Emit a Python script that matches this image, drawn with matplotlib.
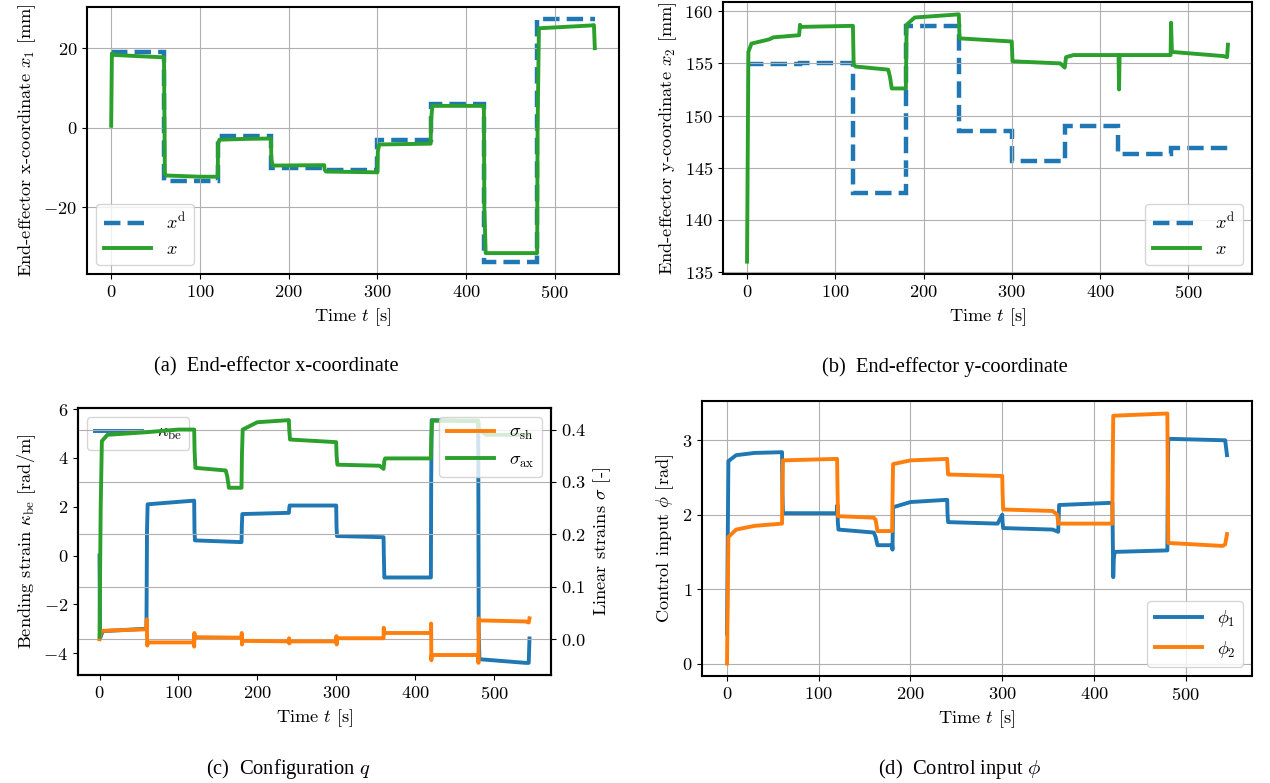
import numpy as np
import matplotlib
matplotlib.use("Agg")
from matplotlib import pyplot as plt

plt.rcParams['font.family'] = 'cmr10'
plt.rcParams['mathtext.fontset'] = 'cm'
plt.rcParams['axes.formatter.use_mathtext'] = True
plt.rcParams['font.size'] = 13.2
plt.rcParams['axes.linewidth'] = 1.5

C_BLUE = '#1f77b4'
C_ORANGE = '#ff7f0e'
C_GREEN = '#2ca02c'
LW = 2.8

## reference steps (desired end-effector position)
seg_edges = [0, 60, 120, 180, 240, 300, 360, 420, 480, 545]
x1_des = [19.0, -13.4, -2.1, -10.2, -10.6, -3.1, 6.0, -33.7, 27.3]
x2_des = [154.9, 155.0, 142.6, 158.6, 148.5, 145.6, 149.0, 146.3, 146.9]

## measured end-effector x-coordinate
t_x1 = [0, 0.8, 4, 30, 59.5, 60.5, 62, 100, 120, 120.5, 122, 150, 180, 180.5, 182, 240,
        240.5, 242, 300, 300.5, 302, 360, 360.5, 362, 420, 420.5, 422, 480, 480.5, 482, 540, 544, 545]
x1 = [0.5, 18.7, 18.3, 18.0, 17.7, -11.5, -12.0, -12.3, -12.3, -4.0, -3.0, -2.8, -2.7, -8.0, -9.5, -9.4,
      -10.5, -11.0, -11.2, -6.0, -4.2, -4.0, 2.0, 5.5, 5.5, -20.0, -31.5, -31.5, 0.0, 25.0, 25.7, 25.8, 20.0]

## measured end-effector y-coordinate
t_x2 = [0, 1.5, 5, 15, 25, 30, 59, 60, 61, 120, 120.8, 123, 160, 162, 164, 180, 180.8, 190, 240,
        240.8, 300, 300.8, 355, 360, 361.5, 370, 421, 421.6, 422.2, 480, 480.5, 481.5, 540, 544, 545]
x2 = [136.0, 156.1, 156.9, 157.1, 157.3, 157.5, 157.7, 158.7, 158.5, 158.6, 154.9, 154.7, 154.4, 153.7,
      152.6, 152.6, 158.7, 159.4, 159.7, 157.4, 157.1, 155.2, 155.0, 154.6, 155.6, 155.8, 155.8, 152.5,
      155.8, 155.8, 158.9, 156.1, 155.7, 155.6, 156.8]

## configuration: bending strain
t_kbe = [0, 0.7, 4, 59.5, 60.2, 61, 100, 120, 120.4, 121, 180, 180.4, 181, 240, 240.4, 241, 300, 300.4, 301,
         360, 360.4, 361, 420, 420.4, 421, 480, 480.6, 481.5, 540, 544, 545]
kbe = [0.0, -3.4, -3.1, -3.0, 1.0, 2.1, 2.2, 2.25, 1.0, 0.62, 0.55, 1.2, 1.7, 1.75, 1.9, 2.05, 2.05, 1.2, 0.8,
       0.75, 0.0, -0.9, -0.9, 3.0, 5.55, 5.5, -3.0, -4.25, -4.4, -4.4, -3.4]

## configuration: shear strain
t_ssh = [0, 2, 59, 60, 60.3, 60.6, 61, 119.5, 120, 120.3, 120.6, 121, 180, 180.3, 180.6, 181, 240,
         240.3, 240.6, 241, 300, 300.3, 300.6, 301, 360, 360.3, 360.6, 361, 420, 420.3, 420.6, 421,
         480, 480.3, 480.6, 481, 540, 544, 545]
s_sh = [0.0, 0.016, 0.019, 0.038, 0.0, -0.012, -0.006, -0.006, -0.014, 0.012, 0.0, 0.004, 0.003,
        0.012, -0.010, -0.003, -0.004, 0.002, -0.008, -0.004, -0.004, 0.006, -0.010, 0.002, 0.002,
        0.022, 0.010, 0.012, 0.012, 0.03, -0.040, -0.030, -0.030, -0.045, 0.040, 0.036, 0.034, 0.032, 0.040]

## configuration: axial strain
t_sax = [0, 1.5, 3, 10, 60, 100, 120, 120.5, 121.5, 160, 162, 164, 180, 180.5, 181.5, 200, 240,
         240.5, 241.5, 300, 300.5, 301.5, 355, 360, 361, 362, 420, 420.5, 421.5, 480, 481, 490, 545]
s_ax = [0.005, 0.25, 0.378, 0.39, 0.395, 0.40, 0.40, 0.36, 0.327, 0.322, 0.31, 0.289, 0.289, 0.35,
        0.400, 0.414, 0.418, 0.40, 0.381, 0.376, 0.35, 0.333, 0.331, 0.325, 0.34, 0.345, 0.345, 0.38,
        0.417, 0.417, 0.40, 0.39, 0.39]

## control inputs
t_phi1 = [0, 1.5, 10, 30, 60, 60.4, 61, 120, 120.4, 120.8, 121.5, 160, 162, 164, 180, 180.4,
          181, 200, 240, 240.4, 241, 295, 300, 300.4, 301, 355, 361, 361.5, 362, 420, 420.4, 421,
          421.6, 422.5, 480, 480.4, 481, 543, 545]
phi1 = [0.4, 2.72, 2.80, 2.83, 2.84, 2.3, 2.02, 2.02, 2.13, 1.9, 1.80, 1.76, 1.70, 1.59, 1.59, 1.53,
        2.10, 2.17, 2.20, 2.0, 1.90, 1.88, 2.0, 1.9, 1.82, 1.80, 1.77, 1.95, 2.13, 2.16, 1.8, 1.16, 1.4,
        1.50, 1.52, 2.3, 3.02, 3.0, 2.80]
t_phi2 = [0, 1.5, 10, 30, 60, 60.4, 61, 120, 120.4, 121, 160, 162, 164, 180, 180.4, 181, 200, 240,
          240.4, 241, 300, 300.4, 301, 355, 360, 360.5, 361, 420, 420.4, 421, 480, 480.4, 481, 540, 543, 545]
phi2 = [0.0, 1.70, 1.80, 1.85, 1.88, 2.3, 2.73, 2.75, 2.4, 1.98, 1.96, 1.93, 1.78, 1.78, 2.2, 2.68, 2.73,
        2.75, 2.65, 2.54, 2.52, 2.3, 2.07, 2.05, 2.0, 1.95, 1.88, 1.88, 2.6, 3.33, 3.36, 2.5, 1.62, 1.58,
        1.60, 1.74]

W, H = 1270, 783
fig = plt.figure(figsize=(W / 100, H / 100), dpi=100)


def box(l, r, t, b):
    return [l / W, 1 - b / H, (r - l) / W, (b - t) / H]


cap_kw = dict(ha='center', va='center', fontsize=14.8, family='Liberation Serif')
leg_kw = dict(handlelength=2.6)

## (a) end-effector x-coordinate
ax = fig.add_axes(box(87, 619, 7, 274))
ax.stairs(x1_des, seg_edges, baseline=None, color=C_BLUE, lw=3.2, ls='--', label=r'$x^\mathrm{d}$')
ax.plot(t_x1, x1, color=C_GREEN, lw=LW, label=r'$x$')
ax.margins(x=0.05, y=0.05)
ax.grid()
ax.set_yticks([-20, 0, 20])
ax.set_xlabel(r'Time $t$ [s]')
ax.set_ylabel(r'End-effector x-coordinate $x_1$ [mm]')
ax.legend(loc='lower left', **leg_kw)
fig.text(276 / W, 1 - 367 / H, '(a)  End-effector x-coordinate', **cap_kw)

## (b) end-effector y-coordinate
ax = fig.add_axes(box(723, 1252, 2, 274))
ax.stairs(x2_des, seg_edges, baseline=None, color=C_BLUE, lw=3.2, ls='--', label=r'$x^\mathrm{d}$')
ax.plot(t_x2, x2, color=C_GREEN, lw=LW, label=r'$x$')
ax.grid()
ax.set_yticks([135, 140, 145, 150, 155, 160])
ax.set_xlabel(r'Time $t$ [s]')
ax.set_ylabel(r'End-effector y-coordinate $x_2$ [mm]')
ax.legend(loc='lower right', **leg_kw)
fig.text(945 / W, 1 - 367 / H, '(b)  End-effector y-coordinate', **cap_kw)

## (c) configuration
ax = fig.add_axes(box(78, 551, 408, 675))
ax.plot(t_kbe, kbe, color=C_BLUE, lw=LW, label=r'$\kappa_\mathrm{be}$')
ax.set_xlabel(r'Time $t$ [s]')
ax.set_ylabel(r'Bending strain $\kappa_\mathrm{be}$ [rad/m]')
ax.legend(loc='upper left', **leg_kw)
ax2 = ax.twinx()
ax2.plot(t_ssh, s_sh, color=C_ORANGE, lw=LW, label=r'$\sigma_\mathrm{sh}$')
ax2.plot(t_sax, s_ax, color=C_GREEN, lw=LW, label=r'$\sigma_\mathrm{ax}$')
ax2.grid()
ax2.set_ylabel(r'Linear strains $\sigma$ [-]')
ax2.legend(loc='upper right', **leg_kw)
fig.text(288 / W, 1 - 769 / H, '(c)  Configuration $q$', **cap_kw)

## (d) control input
ax = fig.add_axes(box(702, 1252, 401, 676))
ax.plot(t_phi1, phi1, color=C_BLUE, lw=LW, label=r'$\phi_1$')
ax.plot(t_phi2, phi2, color=C_ORANGE, lw=LW, label=r'$\phi_2$')
ax.grid()
ax.set_yticks([0, 1, 2, 3])
ax.set_xlabel(r'Time $t$ [s]')
ax.set_ylabel(r'Control input $\phi$ [rad]')
ax.legend(loc='lower right', **leg_kw)
fig.text(960 / W, 1 - 769 / H, '(d)  Control input $\\phi$', **cap_kw)

plt.savefig('out.png', dpi=100)
